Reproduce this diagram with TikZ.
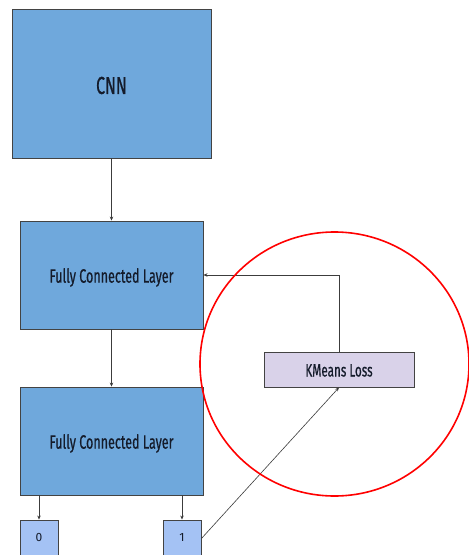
\documentclass[tikz,border=0pt]{standalone}
\usepackage{fontspec}
\setmainfont{Fira Sans}[FakeStretch=0.65,FakeBold=0.6]
\newfontfamily\digitfont{Fira Sans}
\usetikzlibrary{arrows.meta}
\definecolor{boxblue}{HTML}{6FA8DC}
\definecolor{lightblue}{HTML}{A4C2F4}
\definecolor{lav}{HTML}{D9D2E9}
\definecolor{edge}{HTML}{434343}
\definecolor{txt}{HTML}{141B2A}
\tikzset{
  blk/.style={draw=edge, line width=0.9pt, fill=boxblue, text=txt, inner sep=0pt, text depth=0pt},
  outbox/.style={draw=edge, line width=0.9pt, fill=lightblue, text=txt, inner sep=0pt, minimum width=38pt, minimum height=37pt, text depth=0pt, text height=6.3pt, font=\digitfont\fontsize{12}{14}\selectfont},
  lossbox/.style={draw=edge, line width=0.9pt, fill=lav, text=txt, inner sep=0pt, minimum width=150pt, minimum height=35pt, text depth=0pt, text height=14pt, font=\fontsize{18}{20}\selectfont},
  conn/.style={draw=edge!90!black, line width=0.6pt, -{Stealth[length=4pt,width=3.5pt]}}
}
\begin{document}
\begin{tikzpicture}[x=1pt,y=-1pt]
\clip (0,0) rectangle (469,555);
\fill[white] (0,0) rectangle (469,555);
\node[blk, minimum width=199pt, minimum height=149pt, text height=20.9pt, font=\fontsize{24.5}{28}\selectfont] (cnn) at (111.5,83.5) {CNN};
\node[blk, minimum width=183pt, minimum height=108pt, text height=15.3pt, font=\fontsize{19.3}{22}\selectfont] (fc1) at (111.5,275) {Fully Connected Layer};
\node[blk, minimum width=183pt, minimum height=108pt, text height=15.3pt, font=\fontsize{19.3}{22}\selectfont] (fc2) at (111.5,441) {Fully Connected Layer};
\node[outbox] (o0) at (39,538.5) {0};
\node[outbox] (o1) at (182,538.5) {1};
\node[lossbox] (km) at (339,369.5) {KMeans Loss};
\draw[conn] (cnn.south) -- (fc1.north);
\draw[conn] (fc1.south) -- (fc2.north);
\draw[conn] (o0.north |- fc2.south) -- (o0.north);
\draw[conn] (o1.north |- fc2.south) -- (o1.north);
\draw[conn] (km.north) |- (fc1.east);
\draw[conn] (o1.east) -- (km.south);
\draw[red, line width=1.6pt] (334.5,364) ellipse (134.5 and 132);
\end{tikzpicture}
\end{document}
